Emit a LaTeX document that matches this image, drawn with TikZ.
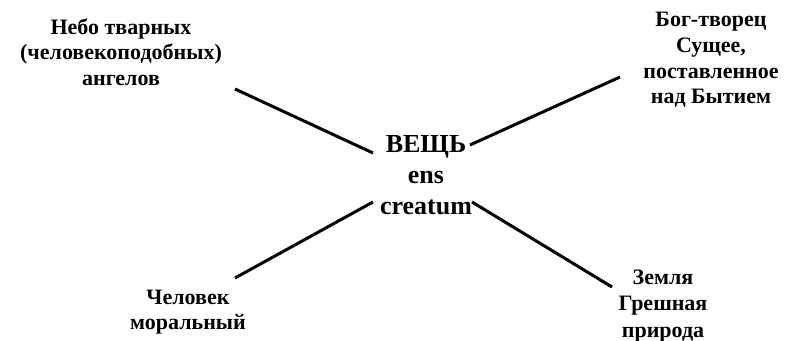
\documentclass[tikz,border=0pt]{standalone}
\usepackage{fontspec}
\setmainfont{Liberation Serif}
\usetikzlibrary{positioning}

\tikzset{
  term/.style={font=\bfseries\fontsize{16.5}{19.2}\selectfont, align=center, inner sep=0pt},
  core/.style={font=\bfseries\fontsize{19.5}{23}\selectfont, align=center, inner sep=0pt},
  spoke/.style={line width=2.25pt}
}

\begin{document}
\begin{tikzpicture}[x=0.75pt,y=-0.75pt]
\useasboundingbox (0,0) rectangle (790,341);
% centre and the four realms
  \node[core] (thing) at (426,175) {ВЕЩЬ\\ens\\creatum};
  \node[term] (heaven) at (121,52) {Небо тварных\\(человекоподобных)\\ангелов};
  \node[term] (god) at (711,60) {Бог-творец\\Сущее,\\поставленное\\над Бытием};
  \node[term] (man) at (188,312) {Человек\\моральный};
  \node[term,font=\bfseries\fontsize{16.5}{19.9}\selectfont] (earth) at (663,306) {Земля\\Грешная\\природа};
% ends of the spokes
  \coordinate (heavenend) at (235,89);
  \coordinate (thingnw) at (373,153);
  \coordinate (thingne) at (470,145);
  \coordinate (godend) at (620,77);
  \coordinate (thingsw) at (373,202);
  \coordinate (manend) at (235,278);
  \coordinate (thingse) at (472,202);
  \coordinate (earthend) at (612,287);
  \draw[spoke] (heavenend) -- (thingnw);
  \draw[spoke] (thingne) -- (godend);
  \draw[spoke] (thingsw) -- (manend);
  \draw[spoke] (thingse) -- (earthend);
\end{tikzpicture}
\end{document}
